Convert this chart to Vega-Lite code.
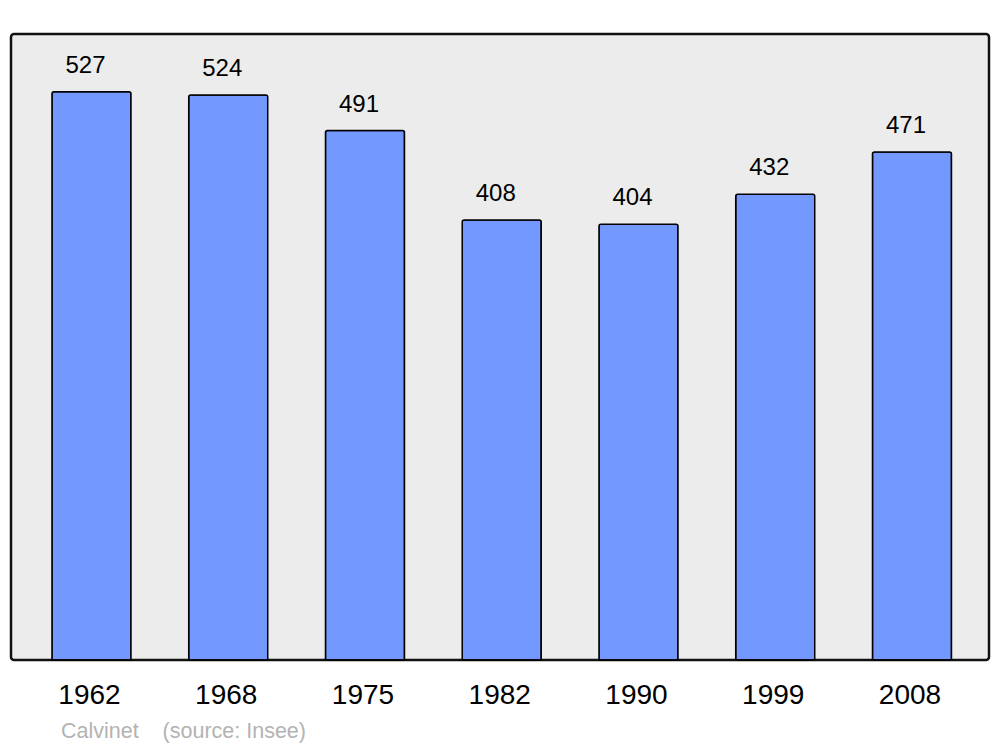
{
  "$schema": "https://vega.github.io/schema/vega-lite/v6.json",
  "autosize": {"type": "none"},
  "width": 978,
  "height": 626,
  "padding": {"left": 11, "top": 34, "right": 11, "bottom": 87},
  "background": "white",
  "config": {
    "font": "Liberation Sans",
    "view": {"fill": "#ececec", "stroke": "#111111", "strokeWidth": 2.5, "cornerRadius": 3}
  },
  "title": {
    "text": "Calvinet\u00a0\u00a0\u00a0\u00a0(source: Insee)",
    "orient": "bottom",
    "anchor": "start",
    "dx": 50,
    "offset": 12,
    "color": "#b3b3b3",
    "fontSize": 21.5,
    "fontWeight": "normal",
    "font": "Liberation Sans"
  },
  "data": {
    "values": [
      {"year": "1962", "pop": 527},
      {"year": "1968", "pop": 524},
      {"year": "1975", "pop": 491},
      {"year": "1982", "pop": 408},
      {"year": "1990", "pop": 404},
      {"year": "1999", "pop": 432},
      {"year": "2008", "pop": 471}
    ]
  },
  "encoding": {
    "x": {
      "field": "year",
      "type": "ordinal",
      "sort": null,
      "scale": {"paddingInner": 0.4223, "paddingOuter": 0.287, "align": 0.522},
      "axis": {
        "title": null,
        "labelAngle": 0,
        "labelFontSize": 28,
        "labelColor": "black",
        "labelPadding": 21,
        "labelOffset": -2,
        "ticks": false,
        "domain": false
      }
    },
    "y": {
      "field": "pop",
      "type": "quantitative",
      "scale": {"domain": [0, 580.5], "nice": false},
      "axis": null
    }
  },
  "layer": [
    {
      "mark": {"type": "bar", "fill": "#7399ff", "stroke": "black", "strokeWidth": 1.5, "cornerRadiusTopLeft": 2, "cornerRadiusTopRight": 2}
    },
    {
      "mark": {"type": "text", "baseline": "alphabetic", "dy": -19, "dx": -6, "fontSize": 24, "color": "black"},
      "encoding": {"text": {"field": "pop", "type": "quantitative"}}
    }
  ]
}
